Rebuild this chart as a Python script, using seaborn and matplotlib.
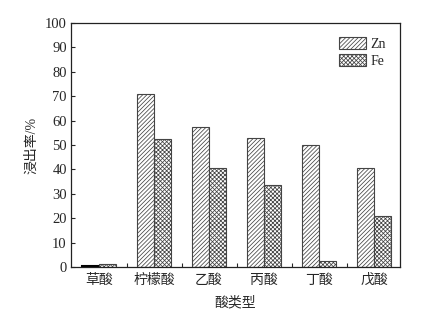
import matplotlib
matplotlib.use("Agg")
import matplotlib.pyplot as plt
import seaborn as sns
import pandas as pd

categories = ["草酸", "柠檬酸", "乙酸", "丙酸", "丁酸", "戊酸"]
zn_values = [0.5, 71, 57.5, 53, 50, 40.5]
fe_values = [1.3, 52.5, 40.5, 33.5, 2.5, 21]
series = ["Zn", "Fe"]

df = pd.DataFrame({
    "acid": categories * 2,
    "value": zn_values + fe_values,
    "metal": ["Zn"] * len(categories) + ["Fe"] * len(categories),
})

sns.set_style("ticks")
plt.rcParams["font.family"] = ["Liberation Serif", "Noto Sans CJK SC"]
plt.rcParams["hatch.linewidth"] = 0.55
plt.rcParams["hatch.color"] = "#707070"

fig = plt.figure(figsize=(4.34, 3.09), dpi=100)
ax = fig.add_axes([0.1636, 0.1359, 0.7581, 0.7897])

sns.barplot(data=df, x="acid", y="value", hue="metal", hue_order=series,
            order=categories, width=0.62, palette=["white", "white"],
            edgecolor="#444444", linewidth=0.8, ax=ax, legend=True)

hatches = ["////////", "xxxxxxxx"]
for cont, h in zip(ax.containers, hatches):
    for p in cont:
        p.set_hatch(h)
        p.set_edgecolor("#444444")
for p in ax.containers[0]:
    if p.get_height() < 1:
        p.set_edgecolor("black")
        p.set_linewidth(1.5)

ax.set_xlim(-0.51, 5.47)
ax.set_ylim(0, 100)
ax.set_yticks(range(0, 101, 10))
ax.set_xticks(range(len(categories)))
ax.set_xticklabels(categories, fontsize=10)
ax.set_xticks([i + 0.5 for i in range(len(categories) - 1)], minor=True)
ax.tick_params(axis="x", which="major", length=0, pad=5)
ax.tick_params(axis="x", which="minor", direction="in", length=3, width=0.8)
ax.tick_params(axis="y", direction="in", length=3, width=0.8, labelsize=10.5, pad=3)
for s in ax.spines.values():
    s.set_visible(True)
    s.set_linewidth(0.9)
    s.set_color("#222222")

ax.set_xlabel("酸类型", fontsize=10, labelpad=6)
ax.set_ylabel("浸出率/%", fontsize=10, labelpad=5)

handles, labels = ax.get_legend_handles_labels()
for hdl, h in zip(handles, hatches):
    hdl.set_hatch(h)
    hdl.set_edgecolor("#444444")
    hdl.set_facecolor("white")
ax.legend(handles, labels, loc="upper right", frameon=False, fontsize=10,
          handlelength=2.0, handleheight=1.0, handletextpad=0.3,
          labelspacing=0.2, borderaxespad=0.6)

fig.savefig("out.png", dpi=100)
